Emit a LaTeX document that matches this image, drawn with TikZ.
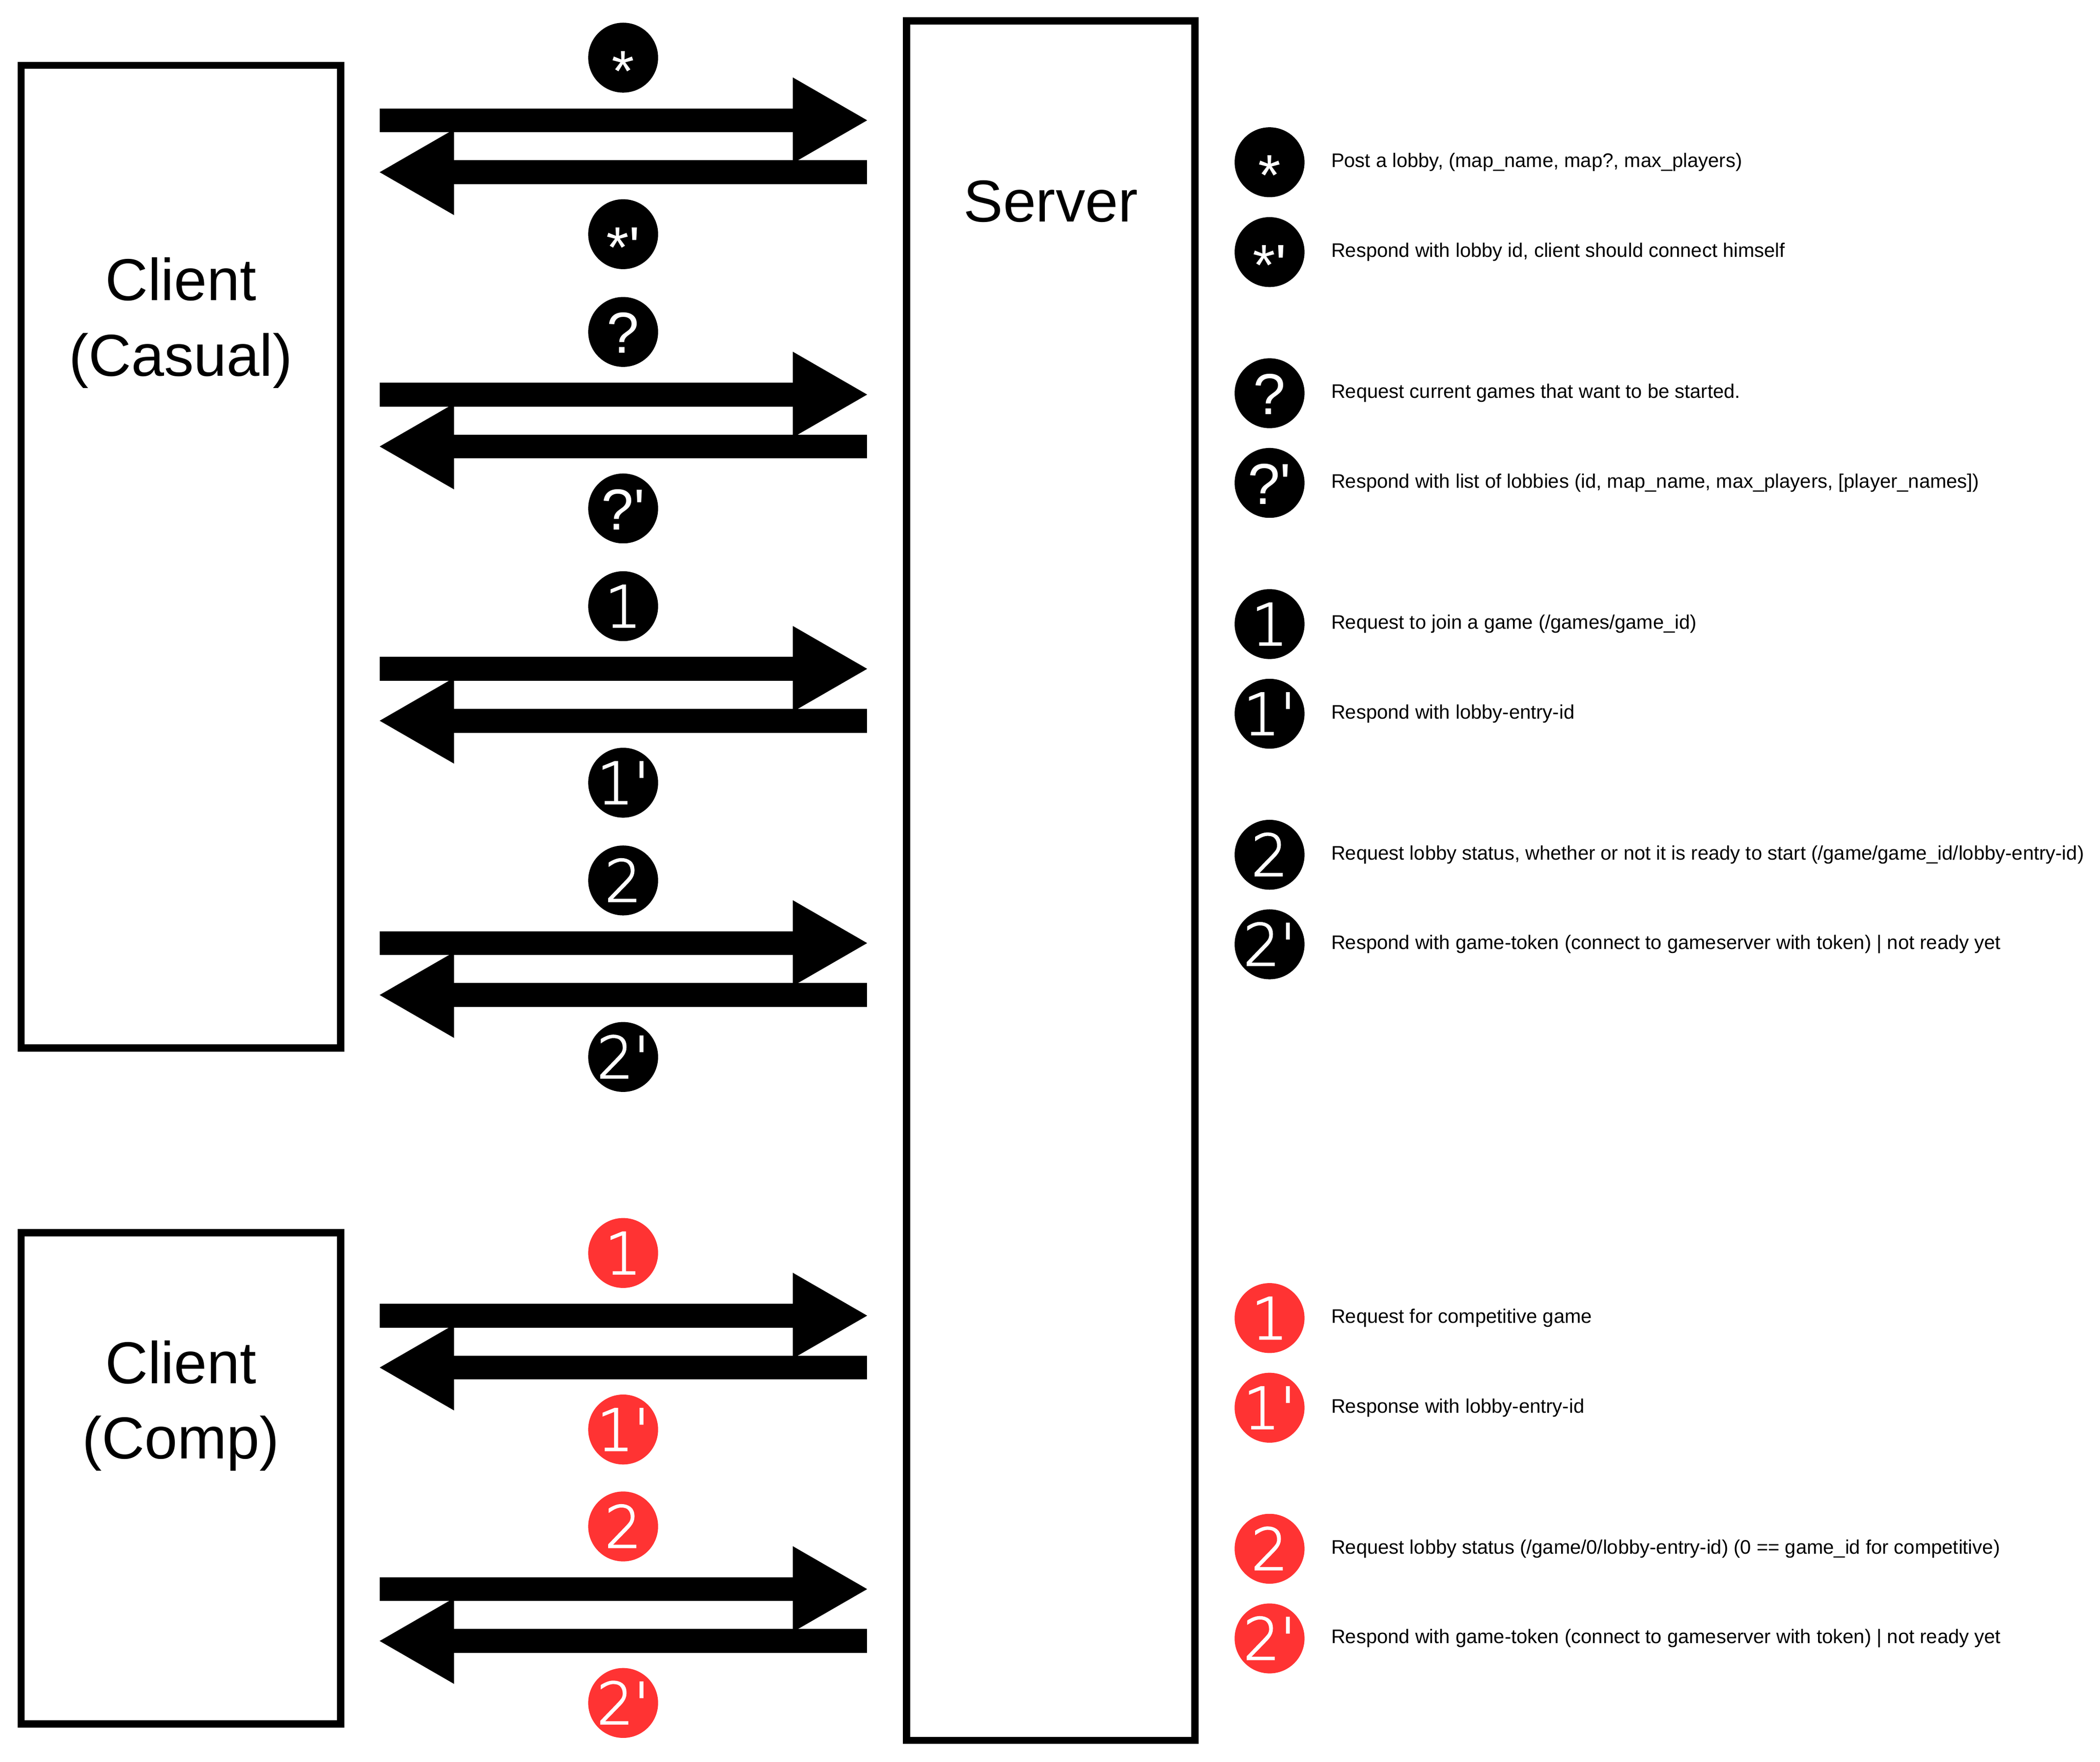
\documentclass[tikz,border=0pt]{standalone}
\usepackage{fontspec}
\setmainfont{Liberation Sans}
\newfontfamily\badgefont{DejaVuSans-ExtraLight.ttf}[FakeBold=2]
\usetikzlibrary{arrows.meta}
\definecolor{compred}{HTML}{FF3333}
\newcommand\lowstar[1]{\raisebox{-9pt}{\rmfamily\fontsize{43}{43}\selectfont#1}}
\newcommand\qmark[1]{{\rmfamily\fontsize{43}{43}\selectfont#1}}
\newcommand\pr{\textquotesingle}
\tikzset{
  box/.style={draw, line width=5.4pt, inner sep=0pt},
  boxlabel/.style={font=\fontsize{44}{56}\selectfont, align=center, anchor=base, inner sep=0pt},
  badge/.style={circle, fill=black, text=white, minimum size=52pt, inner sep=0pt,
    font=\badgefont\fontsize{43}{43}\selectfont, text height=31.4pt, text depth=0pt},
  redbadge/.style={badge, fill=compred},
  note/.style={anchor=base west, inner sep=0pt, font=\fontsize{14.6}{17}\selectfont},
  msg/.style={line width=17.8pt, -{Triangle[length=55.3pt, width=63.8pt, line width=0pt]}}
}
\begin{document}
\begin{tikzpicture}[x=1pt,y=-1pt]
\useasboundingbox (0,0) rectangle (1562,1310.3);
% the three boxes
\node[box, minimum width=237.7pt, minimum height=730.9pt] (casual) at (134.55,414.05) {};
\node[box, minimum width=237.7pt, minimum height=365.4pt] (comp) at (134.55,1099.6) {};
\node[box, minimum width=214.7pt, minimum height=1279pt] (server) at (781.55,655) {};
\node[boxlabel] (casualname) at (134.55,279.6) {Client\\(Casual)};
\node[boxlabel] (compname) at (134.55,1085) {Client\\(Comp)};
\node[boxlabel] (servername) at (781.55,165) {Server};
% arrow ends, client side and server side
\coordinate (c1) at (282.4,89.5);    \coordinate (s1) at (645,89.5);
\coordinate (c1r) at (282.4,128.1);  \coordinate (s1r) at (645,128.1);
\coordinate (c2) at (282.4,293.5);   \coordinate (s2) at (645,293.5);
\coordinate (c2r) at (282.4,332.1);  \coordinate (s2r) at (645,332.1);
\coordinate (c3) at (282.4,497.5);   \coordinate (s3) at (645,497.5);
\coordinate (c3r) at (282.4,536.1);  \coordinate (s3r) at (645,536.1);
\coordinate (c4) at (282.4,701.5);   \coordinate (s4) at (645,701.5);
\coordinate (c4r) at (282.4,740.1);  \coordinate (s4r) at (645,740.1);
\coordinate (c5) at (282.4,978.6);   \coordinate (s5) at (645,978.6);
\coordinate (c5r) at (282.4,1017.2); \coordinate (s5r) at (645,1017.2);
\coordinate (c6) at (282.4,1182);    \coordinate (s6) at (645,1182);
\coordinate (c6r) at (282.4,1220.6); \coordinate (s6r) at (645,1220.6);
\draw[msg] (c1) -- (s1);
\draw[msg] (s1r) -- (c1r);
\draw[msg] (c2) -- (s2);
\draw[msg] (s2r) -- (c2r);
\draw[msg] (c3) -- (s3);
\draw[msg] (s3r) -- (c3r);
\draw[msg] (c4) -- (s4);
\draw[msg] (s4r) -- (c4r);
\draw[msg] (c5) -- (s5);
\draw[msg] (s5r) -- (c5r);
\draw[msg] (c6) -- (s6);
\draw[msg] (s6r) -- (c6r);
% badges on the arrows
\node[badge] (post) at (463.5,42.9) {\lowstar{*}};
\node[badge] (postr) at (463.5,174.2) {\lowstar{*\pr}};
\node[badge] (list) at (463.5,246.9) {\qmark{?}};
\node[badge] (listr) at (463.5,378.2) {\qmark{?\pr}};
\node[badge] (join) at (463.5,450.9) {1};
\node[badge] (joinr) at (463.5,582.2) {1\pr};
\node[badge] (status) at (463.5,654.9) {2};
\node[badge] (statusr) at (463.5,786.2) {2\pr};
\node[redbadge] (cjoin) at (463.5,932) {1};
\node[redbadge] (cjoinr) at (463.5,1063.3) {1\pr};
\node[redbadge] (cstatus) at (463.5,1135.4) {2};
\node[redbadge] (cstatusr) at (463.5,1266.7) {2\pr};
% legend
\node[badge] (k1) at (944.3,120.7) {\lowstar{*}};
\node[badge] (k2) at (944.3,187.5) {\lowstar{*\pr}};
\node[badge] (k3) at (944.3,292.5) {\qmark{?}};
\node[badge] (k4) at (944.3,359.2) {\qmark{?\pr}};
\node[badge] (k5) at (944.3,464.2) {1};
\node[badge] (k6) at (944.3,530.9) {1\pr};
\node[badge] (k7) at (944.3,635.8) {2};
\node[badge] (k8) at (944.3,702.4) {2\pr};
\node[redbadge] (k9) at (944.3,980.4) {1};
\node[redbadge] (k10) at (944.3,1047.1) {1\pr};
\node[redbadge] (k11) at (944.3,1152) {2};
\node[redbadge] (k12) at (944.3,1218.7) {2\pr};
\node[note] (t1) at (990,124.5) {Post a lobby, (map\_name, map?, max\_players)};
\node[note] (t2) at (990,191.3) {Respond with lobby id, client should connect himself};
\node[note] (t3) at (990,296.3) {Request current games that want to be started.};
\node[note] (t4) at (990,363) {Respond with list of lobbies (id, map\_name, max\_players, [player\_names])};
\node[note] (t5) at (990,468) {Request to join a game (/games/game\_id)};
\node[note] (t6) at (990,534.7) {Respond with lobby-entry-id};
\node[note] (t7) at (990,639.6) {Request lobby status, whether or not it is ready to start (/game/game\_id/lobby-entry-id)};
\node[note] (t8) at (990,706.2) {Respond with game-token (connect to gameserver with token) | not ready yet};
\node[note] (t9) at (990,984.2) {Request for competitive game};
\node[note] (t10) at (990,1050.9) {Response with lobby-entry-id};
\node[note] (t11) at (990,1155.8) {Request lobby status (/game/0/lobby-entry-id) (0 == game\_id for competitive)};
\node[note] (t12) at (990,1222.5) {Respond with game-token (connect to gameserver with token) | not ready yet};
\end{tikzpicture}
\end{document}
